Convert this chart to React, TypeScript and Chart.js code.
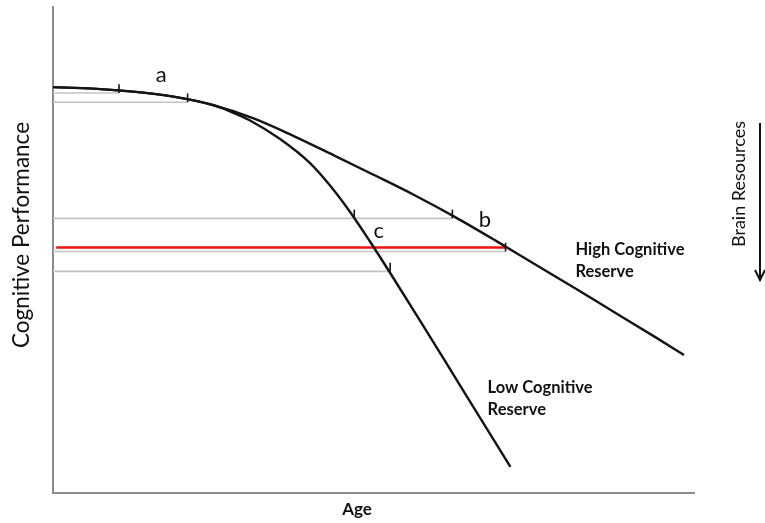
import React, { useEffect, useRef } from "react";
import { Chart, registerables } from "chart.js";

Chart.register(...registerables);

// ---- data (age / performance in arbitrary 0-100 units) ----
const ageShared = [0, 6.26, 12.52, 18.78, 25.04];
const perfShared = [83.51, 83.2, 82.58, 81.55, 79.79];

const ageHigh = [31.3, 37.56, 43.82, 50.08, 56.34, 62.6, 68.86, 75.12, 81.38, 87.64, 93.9, 98.44];
const perfHigh = [77.07, 73.44, 69.48, 65.44, 61.32, 56.87, 52.08, 47.13, 42.19, 37.15, 32.12, 28.41];

const ageLow = [27.54, 30.67, 35.37, 40.06, 43.19, 46.32, 49.45, 52.58, 57.28, 63.54, 71.36];
const perfLow = [78.56, 76.7, 72.87, 67.92, 63.3, 57.86, 51.75, 45.32, 35.42, 22.06, 5.36];

// gray reference levels and where they meet a curve
const refLevels = [82.3, 80.4, 56.5, 49.7, 45.6];
const refEnds = [10.3, 21.0, 62.3, 70.6, 52.6];

// red threshold line
const thresholdLevel = 50.52;
const thresholdStart = 0.5;
const thresholdEnd = 70.6;

// tick marks on the curves
const markAges = [10.3, 21.0, 47.0, 62.3, 70.6, 52.6];
const markLevels = [82.3, 80.4, 56.5, 56.5, 49.7, 45.6];
const markHeight = 1.8;

// annotation letters
const letters = ["a", "b", "c"];
const letterAges = [16.9, 67.4, 50.8];
const letterPerf = [86.0, 56.1, 54.0];

const curveLabels = [
  ["High Cognitive", "Reserve"],
  ["Low Cognitive", "Reserve"],
];
const curveLabelAges = [81.5, 67.8];
const curveLabelPerf = [48.9, 20.6];

const xTitle = "Age";
const yTitle = "Cognitive Performance";
const sideTitle = "Brain Resources";

const FONT = "Lato, 'Open Sans', sans-serif";

function pts(xs: number[], ys: number[]) {
  return xs.map((x, i) => ({ x, y: ys[i] }));
}

export default function App() {
  const ref = useRef<HTMLCanvasElement | null>(null);

  useEffect(() => {
    if (!ref.current) return;

    const curveStyle = {
      borderColor: "#141414",
      borderWidth: 2.4,
      pointRadius: 0,
      fill: false,
      cubicInterpolationMode: "monotone" as const,
    };

    const datasets: any[] = [
      { ...curveStyle, label: "High", data: pts([...ageShared, ...ageHigh], [...perfShared, ...perfHigh]) },
      { ...curveStyle, label: "Low", data: pts([...ageShared, ...ageLow], [...perfShared, ...perfLow]) },
    ];
    markAges.forEach((a, i) => {
      datasets.push({
        label: "mark" + i,
        data: [
          { x: a, y: markLevels[i] },
          { x: a, y: markLevels[i] + markHeight },
        ],
        borderColor: "#141414",
        borderWidth: 1.6,
        pointRadius: 0,
        tension: 0,
      });
    });
    datasets.push({
      label: "threshold",
      data: [
        { x: thresholdStart, y: thresholdLevel },
        { x: thresholdEnd, y: thresholdLevel },
      ],
      borderColor: "#f01010",
      borderWidth: 2.6,
      pointRadius: 0,
      tension: 0,
    });
    refLevels.forEach((lv, i) => {
      datasets.push({
        label: "ref" + i,
        data: [
          { x: 0, y: lv },
          { x: refEnds[i], y: lv },
        ],
        borderColor: "#c4c4c4",
        borderWidth: 1.6,
        pointRadius: 0,
        tension: 0,
      });
    });

    const annotate = {
      id: "annotate",
      afterDatasetsDraw(chart: any) {
        const ctx = chart.ctx;
        const xs = chart.scales.x;
        const ys = chart.scales.y;
        ctx.save();
        ctx.fillStyle = "#111";
        // letters
        ctx.font = `22px ${FONT}`;
        ctx.textAlign = "center";
        ctx.textBaseline = "middle";
        letters.forEach((l, i) => {
          ctx.fillText(l, xs.getPixelForValue(letterAges[i]), ys.getPixelForValue(letterPerf[i]));
        });
        // curve labels
        ctx.font = `bold 16.5px ${FONT}`;
        ctx.textAlign = "left";
        ctx.textBaseline = "alphabetic";
        curveLabels.forEach((lines, i) => {
          const x = xs.getPixelForValue(curveLabelAges[i]);
          const y = ys.getPixelForValue(curveLabelPerf[i]);
          lines.forEach((t, j) => ctx.fillText(t, x, y + j * 22));
        });
        // x title
        const ca = chart.chartArea;
        ctx.font = `bold 17px ${FONT}`;
        ctx.textAlign = "center";
        ctx.fillText(xTitle, ca.left + 304, ca.bottom + 22);
        // y title
        ctx.save();
        ctx.translate(ca.left - 31, ca.top + 228);
        ctx.rotate(-Math.PI / 2);
        ctx.font = `22.5px ${FONT}`;
        ctx.textBaseline = "middle";
        ctx.fillText(yTitle, 0, 0);
        ctx.restore();
        // side title + arrow
        ctx.save();
        ctx.translate(ca.right + 45, ca.top + 177);
        ctx.rotate(-Math.PI / 2);
        ctx.font = `18px ${FONT}`;
        ctx.textBaseline = "middle";
        ctx.fillText(sideTitle, 0, 0);
        ctx.restore();
        const ax = ca.right + 66;
        ctx.strokeStyle = "#111";
        ctx.lineWidth = 2;
        ctx.beginPath();
        ctx.moveTo(ax, ca.top + 116);
        ctx.lineTo(ax, ca.top + 272);
        ctx.stroke();
        ctx.beginPath();
        ctx.moveTo(ax - 5, ca.top + 263);
        ctx.lineTo(ax, ca.top + 273);
        ctx.lineTo(ax + 5, ca.top + 263);
        ctx.stroke();
        ctx.restore();
      },
    };

    const axisOpts = {
      type: "linear" as const,
      min: 0,
      max: 100,
      display: true,
      grid: { display: false, drawTicks: false },
      ticks: { display: false },
      border: { display: true, color: "#8a8a8a", width: 2 },
    };

    const chart = new Chart(ref.current, {
      type: "line",
      data: { datasets },
      options: {
        animation: false,
        responsive: false,
        layout: { padding: { left: 53, right: 71, top: 7, bottom: 30 } },
        plugins: { legend: { display: false }, tooltip: { enabled: false } },
        scales: { x: axisOpts, y: axisOpts },
      },
      plugins: [annotate],
    });
    return () => chart.destroy();
  }, []);

  return (
    <div style={{ position: "absolute", left: 0, top: 0, width: 765, height: 523, background: "#fff" }}>
      <canvas ref={ref} width={765} height={523} style={{ display: "block" }} />
    </div>
  );
}
